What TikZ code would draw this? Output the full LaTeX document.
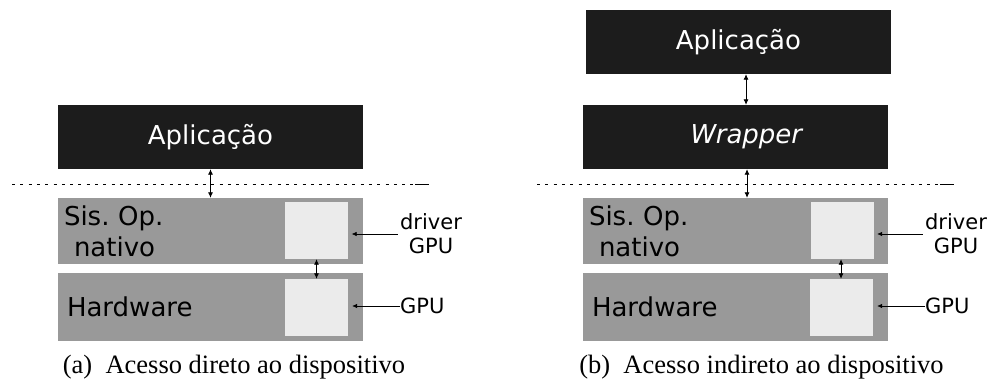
\documentclass[tikz,border=0pt]{standalone}
\usepackage{fontspec}
\setmainfont{DejaVu Sans}
\newfontfamily\capfont{Liberation Serif}
\usetikzlibrary{arrows.meta}
\definecolor{appblack}{HTML}{1C1C1C}
\definecolor{layergray}{HTML}{999999}
\definecolor{devlight}{HTML}{EBEBEB}

\begin{document}
\frenchspacing
\begin{tikzpicture}[x=1pt,y=-1pt]
      \tikzstyle{every node}+=[inner sep=0pt]
      \tikzstyle{app}=[fill=appblack, text=white, minimum width=305pt, minimum height=64pt, font=\fontsize{26}{31}\selectfont]
      \tikzstyle{layer}=[fill=layergray, text width=293pt, inner xsep=6pt, minimum height=66pt, align=left, font=\fontsize{26}{31}\selectfont]
      \tikzstyle{dev}=[fill=devlight, minimum width=63pt, minimum height=57pt]
      \tikzstyle{lbl}=[font=\fontsize{21}{24}\selectfont, align=center]
      \tikzstyle{link}=[{Latex[length=5.5pt,width=5pt]}-{Latex[length=5.5pt,width=5pt]}, line width=0.8pt]
      \tikzstyle{pointer}=[-{Latex[length=5pt,width=4.5pt]}, line width=0.6pt]
      \tikzstyle{border}=[dash pattern=on 3pt off 5.3pt, line width=0.8pt]
      \tikzstyle{caption}=[font=\capfont\fontsize{26.5}{30}\selectfont]
      \useasboundingbox (0,0) rectangle (990,383);
      % (a) direct access
      \node [app] (appA) at (210.5,137) {Aplica\c{c}\~ao};
      \node [layer] (sisA) at (210.5,231) {Sis. Op.\\\hspace*{10pt}nativo};
      \node [layer, minimum height=68pt] (hwA) at (210.5,307) {\hspace*{3pt}Hardware};
      \node [dev] (drvA) at (316.5,230.5) {};
      \node [dev] (gpuA) at (316.5,307.5) {};
      \node [lbl] (drvlabA) at (431,234) {driver\\GPU};
      \node [lbl, anchor=west] (gpulabA) at (400,306) {GPU};
      \coordinate (lineA0) at (12,184);
      \coordinate (lineA1) at (415,184);
      \coordinate (lineA2) at (429,184);
      \draw [border] (lineA0) -- (lineA1);
      \draw [line width=1pt] (lineA1) -- (lineA2);
      \draw [link] (appA.south) -- (sisA.north);
      \draw [link] (drvA.south) -- (gpuA.north);
      \draw [pointer, shorten >=3.5pt] ([xshift=-2pt]drvlabA.west) -- (drvlabA.west -| drvA.east);
      \draw [pointer, shorten >=4pt] (gpulabA.west) -- (gpulabA.west -| gpuA.east);
      \node [caption] (capA) at (234,367) {(a)\enspace Acesso direto ao dispositivo};
      % (b) indirect access
      \node [app] (appB) at (738.5,42) {Aplica\c{c}\~ao};
      \node [app] (wrapB) at (735.5,137) {\hspace*{23pt}\textit{Wrapper}};
      \node [layer] (sisB) at (735.5,231) {Sis. Op.\\\hspace*{10pt}nativo};
      \node [layer, minimum height=68pt] (hwB) at (735.5,307) {\hspace*{3pt}Hardware};
      \node [dev] (drvB) at (842.5,230.5) {};
      \node [dev] (gpuB) at (841.5,307.5) {};
      \node [lbl] (drvlabB) at (956,234) {driver\\GPU};
      \node [lbl, anchor=west] (gpulabB) at (925,306) {GPU};
      \coordinate (lineB0) at (537,184);
      \coordinate (lineB1) at (940,184);
      \coordinate (lineB2) at (954,184);
      \draw [border] (lineB0) -- (lineB1);
      \draw [line width=1pt] (lineB1) -- (lineB2);
      \draw [link] ([xshift=7.5pt]appB.south) -- ([xshift=7.5pt]appB.south |- wrapB.north);
      \draw [link] ([xshift=11.5pt]wrapB.south) -- ([xshift=11.5pt]wrapB.south |- sisB.north);
      \draw [link] ([xshift=-1.5pt]drvB.south) -- ([xshift=-1.5pt]drvB.south |- gpuB.north);
      \draw [pointer, shorten >=3pt] ([xshift=-2pt]drvlabB.west) -- (drvlabB.west -| drvB.east);
      \draw [pointer, shorten >=4pt] (gpulabB.west) -- (gpulabB.west -| gpuB.east);
      \node [caption] (capB) at (761.5,367) {(b)\enspace Acesso indireto ao dispositivo};
    \end{tikzpicture}
\end{document}
